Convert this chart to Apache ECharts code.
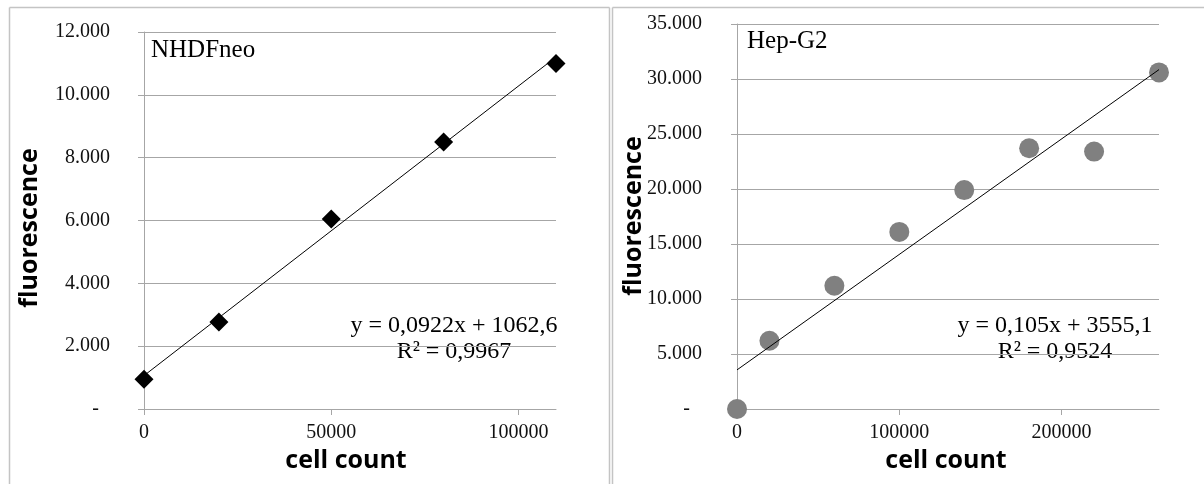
<!DOCTYPE html>
<html>
<head>
<meta charset="utf-8">
<script src="https://cdn.jsdelivr.net/npm/echarts@6.0.0/dist/echarts.min.js"></script>
<style>
  html, body { margin: 0; padding: 0; background: #ffffff; }
  #chart { width: 1204px; height: 484px; }
</style>
</head>
<body>
<div id="chart"></div>
<script>
// NHDFneo standard curve
const nhdfCells = [0, 20000, 50000, 80000, 110000];
const nhdfFluor = [950, 2770, 6050, 8500, 11000];
const nhdfSlope = 0.0922;
const nhdfIntercept = 1062.6;
const nhdfXTicks = [0, 50000, 100000];

// Hep-G2 standard curve
const hepCells = [0, 20000, 60000, 100000, 140000, 180000, 220000, 260000];
const hepFluor = [0, 6200, 11200, 16100, 19900, 23700, 23400, 30600];
const hepSlope = 0.105;
const hepIntercept = 3555.1;
const hepXTicks = [0, 100000, 200000];

const serif = 'Liberation Serif, Times New Roman, serif';
const sans = 'Open Sans, Liberation Sans, sans-serif';
const gridGray = '#a6a6a6';

function pairs(xs, ys) { return xs.map((x, i) => [x, ys[i]]); }
function trend(slope, intercept, x0, x1) {
  return [[x0, intercept + slope * x0], [x1, intercept + slope * x1]];
}
// thousands shown with a dot separator, zero as a dash
function yLabel(v) {
  if (v === 0) return '{d|-}';
  return (v / 1000) + '.000';
}

function xAxisFor(idx, max, interval, ticks) {
  return {
    type: 'value', gridIndex: idx, min: 0, max: max, interval: interval,
    axisLine: { show: true, lineStyle: { color: gridGray, width: 1 } },
    axisTick: { show: true, inside: false, length: 6, customValues: ticks,
                lineStyle: { color: gridGray } },
    axisLabel: { customValues: ticks, margin: 14, color: '#111',
                 fontFamily: serif, fontSize: 20,
                 formatter: function (v) { return String(v); } },
    splitLine: { show: false }
  };
}
function yAxisFor(idx, max, interval, margin, dashPad) {
  return {
    type: 'value', gridIndex: idx, min: 0, max: max, interval: interval,
    axisLine: { show: true, lineStyle: { color: gridGray, width: 1 } },
    axisTick: { show: true, inside: false, length: 6, lineStyle: { color: gridGray } },
    axisLabel: { margin: margin, color: '#111', fontFamily: serif, fontSize: 20,
                 formatter: yLabel,
                 rich: { d: { fontFamily: serif, fontSize: 20, color: '#111',
                              padding: [0, dashPad, 0, 0] } } },
    splitLine: { show: true, lineStyle: { color: gridGray, width: 1 } }
  };
}

const chart = echarts.init(document.getElementById('chart'), null, { renderer: 'canvas' });

const option = {
  backgroundColor: '#ffffff',
  animation: false,
  grid: [
    { left: 144, top: 32, width: 412, height: 377 },
    { left: 737, top: 24, width: 422, height: 385 }
  ],
  xAxis: [
    xAxisFor(0, 110000, 50000, nhdfXTicks),
    xAxisFor(1, 260000, 100000, hepXTicks)
  ],
  yAxis: [
    yAxisFor(0, 12000, 2000, 34, 11),
    yAxisFor(1, 35000, 5000, 35, 12)
  ],
  series: [
    {
      name: 'NHDFneo trend', type: 'line', xAxisIndex: 0, yAxisIndex: 0,
      data: trend(nhdfSlope, nhdfIntercept, 0, 110000),
      showSymbol: false, lineStyle: { color: '#000', width: 1 }, z: 3
    },
    {
      name: 'NHDFneo', type: 'scatter', xAxisIndex: 0, yAxisIndex: 0,
      data: pairs(nhdfCells, nhdfFluor),
      symbol: 'diamond', symbolSize: 19,
      itemStyle: { color: '#000000', opacity: 1 }, z: 4
    },
    {
      name: 'Hep-G2', type: 'scatter', xAxisIndex: 1, yAxisIndex: 1,
      data: pairs(hepCells, hepFluor),
      symbol: 'circle', symbolSize: 20,
      itemStyle: { color: '#808080', opacity: 1 }, z: 2
    },
    {
      name: 'Hep-G2 trend', type: 'line', xAxisIndex: 1, yAxisIndex: 1,
      data: trend(hepSlope, hepIntercept, 0, 260000),
      showSymbol: false, lineStyle: { color: '#000', width: 1 }, z: 3
    }
  ],
  graphic: [
    // panel frames
    { type: 'line', shape: { x1: 9.5, y1: 7.5, x2: 609.5, y2: 7.5 }, style: { stroke: '#c4c4c4', lineWidth: 1.5 } },
    { type: 'line', shape: { x1: 9.5, y1: 7.5, x2: 9.5, y2: 484 }, style: { stroke: '#c4c4c4', lineWidth: 1.5 } },
    { type: 'line', shape: { x1: 609.5, y1: 7.5, x2: 609.5, y2: 484 }, style: { stroke: '#c4c4c4', lineWidth: 1.5 } },
    { type: 'line', shape: { x1: 612.5, y1: 7.5, x2: 1204, y2: 7.5 }, style: { stroke: '#c4c4c4', lineWidth: 1.5 } },
    { type: 'line', shape: { x1: 612.5, y1: 7.5, x2: 612.5, y2: 484 }, style: { stroke: '#c4c4c4', lineWidth: 1.5 } },

    // panel titles
    { type: 'text', left: 151, top: 38, style: { text: 'NHDFneo', font: '25px ' + serif, fill: '#000' } },
    { type: 'text', left: 747, top: 29, style: { text: 'Hep-G2', font: '25px ' + serif, fill: '#000' } },

    // axis titles
    { type: 'text', x: 30, y: 228, rotation: Math.PI / 2,
      style: { text: 'fluorescence', font: 'bold 25px ' + sans, fill: '#000', align: 'center', verticalAlign: 'middle' } },
    { type: 'text', x: 346, y: 461,
      style: { text: 'cell count', font: 'bold 25px ' + sans, fill: '#000', align: 'center', verticalAlign: 'middle' } },
    { type: 'text', x: 634, y: 216, rotation: Math.PI / 2,
      style: { text: 'fluorescence', font: 'bold 25px ' + sans, fill: '#000', align: 'center', verticalAlign: 'middle' } },
    { type: 'text', x: 946, y: 461,
      style: { text: 'cell count', font: 'bold 25px ' + sans, fill: '#000', align: 'center', verticalAlign: 'middle' } },

    // regression equations
    { type: 'text', x: 454, y: 326,
      style: { text: 'y = 0,0922x + 1062,6', font: '24px ' + serif, fill: '#000', align: 'center', verticalAlign: 'middle' } },
    { type: 'text', x: 454, y: 352,
      style: { text: 'R² = 0,9967', font: '24px ' + serif, fill: '#000', align: 'center', verticalAlign: 'middle' } },
    { type: 'text', x: 1055, y: 326,
      style: { text: 'y = 0,105x + 3555,1', font: '24px ' + serif, fill: '#000', align: 'center', verticalAlign: 'middle' } },
    { type: 'text', x: 1055, y: 352,
      style: { text: 'R² = 0,9524', font: '24px ' + serif, fill: '#000', align: 'center', verticalAlign: 'middle' } }
  ]
};

chart.setOption(option);
</script>
</body>
</html>
